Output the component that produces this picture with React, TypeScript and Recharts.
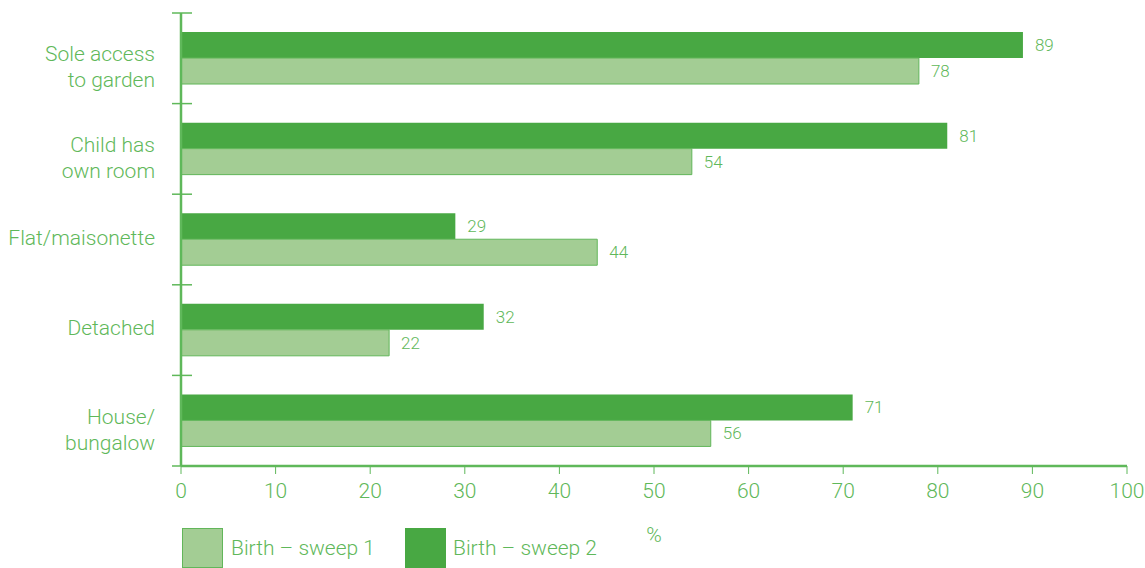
import React from "react";
import {
    BarChart,
    Bar,
    XAxis,
    YAxis,
    LabelList,
} from "recharts";

const categories = [
    "Sole access\nto garden",
    "Child has\nown room",
    "Flat/maisonette",
    "Detached",
    "House/\nbungalow",
];
const sweep1 = [78, 54, 44, 22, 56];
const sweep2 = [89, 81, 29, 32, 71];
const xTicks = [0, 10, 20, 30, 40, 50, 60, 70, 80, 90, 100];

const data = categories.map((name, i) => ({
    name,
    s1: sweep1[i],
    s2: sweep2[i],
}));

const TEXT = "#5fb85a";
const DARK = "#48a843";
const LIGHT = "#a3cd94";
const LIGHT_STROKE = "#62b65a";
const FONT = "Roboto, 'Liberation Sans', sans-serif";

// category label plus the cross ticks at the band edges
const CategoryTick = (props: any) => {
    const { x, y, payload, index, height, visibleTicksCount } = props;
    const lines = String(payload.value).split("\n");
    const n = lines.length;
    const band = height / visibleTicksCount;
    const axisX = x;
    return (
        <g>
            <line x1={axisX - 9} x2={axisX + 11} y1={y - band / 2} y2={y - band / 2} stroke={TEXT} strokeWidth={1.5} />
            {index === visibleTicksCount - 1 && (
                <line x1={axisX - 9} x2={axisX} y1={y + band / 2} y2={y + band / 2} stroke={TEXT} strokeWidth={1.5} />
            )}
            <text
                x={x - 26}
                y={y}
                textAnchor="end"
                fill={TEXT}
                fontSize={21}
                fontWeight={300}
                fontFamily={FONT}
            >
                {lines.map((l, i) => (
                    <tspan
                        key={i}
                        x={x - 26}
                        y={y + (i - (n - 1) / 2) * 26 + (n > 1 ? 9 : -2)}
                        dominantBaseline="central"
                    >
                        {l}
                    </tspan>
                ))}
            </text>
        </g>
    );
};

const LegendBox = () => (
    <div
        style={{
            position: "absolute",
            left: 182,
            top: 528,
            display: "flex",
            fontFamily: FONT,
            fontWeight: 300,
            fontSize: 21,
            color: TEXT,
        }}
    >
        <div style={{ display: "flex", alignItems: "center", marginRight: 30 }}>
            <div style={{ width: 41, height: 40, background: LIGHT, border: `1px solid ${LIGHT_STROKE}`, boxSizing: "border-box" }} />
            <span style={{ marginLeft: 8 }}>Birth – sweep 1</span>
        </div>
        <div style={{ display: "flex", alignItems: "center" }}>
            <div style={{ width: 41, height: 40, background: DARK }} />
            <span style={{ marginLeft: 7 }}>Birth – sweep 2</span>
        </div>
    </div>
);

export default function App() {
    return (
        <div style={{ position: "absolute", left: 0, top: 0, width: 1145, height: 568, overflow: "hidden", background: "#fff" }}>
            <BarChart
                width={1145}
                height={568}
                data={data}
                layout="vertical"
                margin={{ top: 13, right: 18, left: 0, bottom: 0 }}
                barCategoryGap="21%"
                barGap={0}
            >
                <XAxis
                    type="number"
                    domain={[0, 100]}
                    ticks={xTicks}
                    interval={0}
                    height={102}
                    axisLine={{ stroke: TEXT, strokeWidth: 2.5 }}
                    tickLine={{ stroke: TEXT, strokeWidth: 1 }}
                    tickSize={8}
                    tickMargin={9}
                    tick={{ fill: TEXT, fontSize: 21, fontFamily: FONT, fontWeight: 300 }}
                    label={{ value: "%", position: "insideBottom", offset: 26, fill: TEXT, fontSize: 21, fontFamily: FONT, fontWeight: 300 }}
                />
                <YAxis
                    type="category"
                    dataKey="name"
                    width={181}
                    axisLine={{ stroke: TEXT, strokeWidth: 2.5 }}
                    tickLine={false}
                    tickSize={0}
                    tickMargin={0}
                    tick={<CategoryTick />}
                />
                <Bar dataKey="s2" fill={DARK} isAnimationActive={false}>
                    <LabelList dataKey="s2" position="right" offset={12} fill={TEXT} fontSize={17} fontFamily={FONT} fontWeight={300} />
                </Bar>
                <Bar dataKey="s1" fill={LIGHT} stroke={LIGHT_STROKE} strokeWidth={1} isAnimationActive={false}>
                    <LabelList dataKey="s1" position="right" offset={12} fill={TEXT} fontSize={17} fontFamily={FONT} fontWeight={300} />
                </Bar>
            </BarChart>
            <LegendBox />
        </div>
    );
}
